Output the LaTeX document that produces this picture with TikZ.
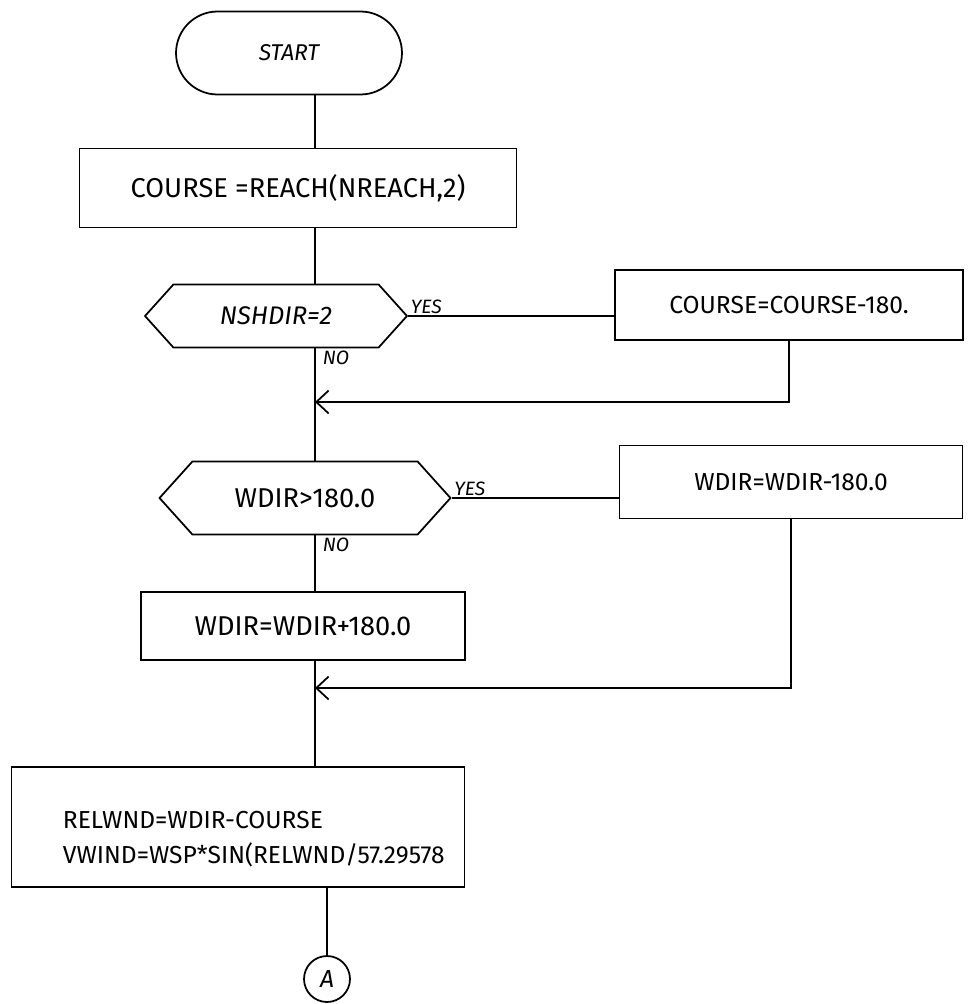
\documentclass[tikz,border=0pt]{standalone}
\usepackage{fontspec}
\setmainfont{Fira Sans}
\usetikzlibrary{shapes.misc,shapes.symbols,arrows.meta}
\begin{document}
\begin{tikzpicture}[x=0.02cm,y=-0.02cm,
  line width=1pt,
  every node/.style={font=\fontsize{14}{20}\selectfont},
  bigtext/.style={font=\fontsize{15.5}{20}\selectfont},
  proc/.style={draw,rectangle,inner sep=0pt},
  decide/.style={draw,signal,signal to=east and west,signal pointer angle=96,inner sep=0pt},
  term/.style={draw,rounded rectangle,inner sep=0pt},
  joinarrow/.style={-{Straight Barb[length=7pt,width=13pt]}},
  lbl/.style={font=\fontsize{11}{13}\selectfont\itshape,inner sep=1pt}]
\useasboundingbox (0,0) rectangle (968,1004);
\fill[white] (0,0) rectangle (968,1004);

% main flow column
\coordinate (spine) at (315,0);

% shapes
\node[term, minimum width=4.52cm, minimum height=1.66cm, font=\fontsize{13}{16}\selectfont\itshape] (start) at (289,53) {START};
\node[proc, bigtext, minimum width=8.74cm, minimum height=1.58cm] (b1) at (298,188) {COURSE =REACH(NREACH,2)};
\node[decide, minimum width=5.24cm, minimum height=1.26cm, font=\fontsize{14.5}{16}\selectfont\itshape] (d1) at (276,316) {NSHDIR=2};
\node[proc, minimum width=6.96cm, minimum height=1.4cm] (b2) at (789,305) {COURSE=COURSE-180.};
\node[decide, bigtext, minimum width=5.82cm, minimum height=1.46cm] (d2) at (305,498) {WDIR>180.0};
\node[proc, minimum width=6.86cm, minimum height=1.46cm] (b3) at (791,482) {WDIR=WDIR-180.0};
\node[proc, bigtext, minimum width=6.48cm, minimum height=1.36cm] (b4) at (303,626) {WDIR=WDIR+180.0};
\node[proc, minimum width=9.06cm, minimum height=2.4cm] (b5) at (238,827) {};
\node[anchor=west, align=left, inner sep=0pt] (b5t) at (62,839) {RELWND=WDIR-COURSE\\VWIND=WSP*SIN(RELWND/57.29578};
\node[draw, circle, minimum size=0.92cm, inner sep=0pt, font=\fontsize{14}{16}\selectfont\itshape] (A) at (327,979) {A};

% merge points
\coordinate (m1) at (315,402);
\coordinate (m2) at (315,688);

% connectors
\draw (start.south -| spine) -- (b1.north -| spine);
\draw (b1.south -| spine) -- (d1.north -| spine);
\draw (d1.east) -- (d1.east -| b2.west);
\draw[joinarrow] (b2.south) |- (m1);
\draw (d1.south -| spine) -- (d2.north -| spine);
\draw (d2.east) -- (d2.east -| b3.west);
\draw[joinarrow] (b3.south) |- (m2);
\draw (d2.south -| spine) -- (b4.north -| spine);
\draw (b4.south -| spine) -- (b5.north -| spine);
\draw (A.north |- b5.south) -- (A.north);

% branch labels
\node[lbl, anchor=south west] (y1) at (d1.east) {YES};
\node[lbl, anchor=north west] (n1) at ([xshift=3pt]d1.south -| spine) {NO};
\node[lbl, anchor=south west] (y2) at (d2.east) {YES};
\node[lbl, anchor=north west] (n2) at ([xshift=3pt]d2.south -| spine) {NO};
\end{tikzpicture}
\end{document}
